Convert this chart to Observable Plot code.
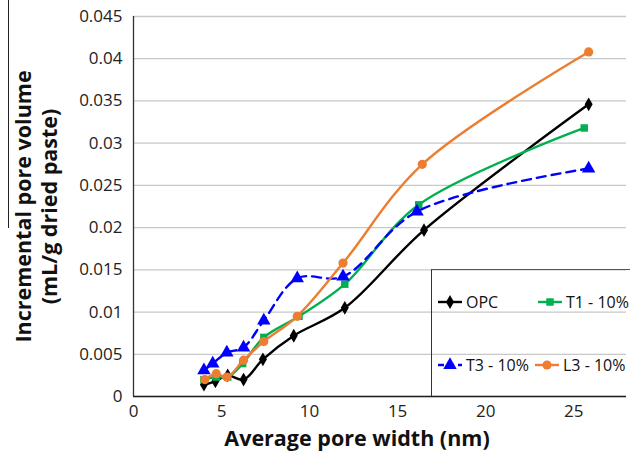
<!DOCTYPE html>
<html>
<head>
<meta charset="utf-8">
<script src="https://cdn.jsdelivr.net/npm/d3@7"></script>
<script src="https://cdn.jsdelivr.net/npm/@observablehq/plot@0.6"></script>
<style>
  body { margin: 0; background: #fff; }
  #wrap { position: relative; width: 630px; height: 460px; font-family: "Open Sans", sans-serif; }
  #legend { position: absolute; left: 431px; top: 269px; width: 205px; height: 127px;
            border-left: 1.3px solid #333; border-top: 1.3px solid #555; box-sizing: border-box; }
  .item { position: absolute; display: flex; align-items: center; font-size: 16px; color: #111; height: 20px; }
  .item svg { margin-right: 3px; }
  #edge { position: absolute; left: 8px; top: 0; width: 1px; height: 228px; background: #222; }
</style>
</head>
<body>
<div id="wrap"><div id="edge"></div></div>
<script>
const seriesNames = ["OPC", "T1 - 10%", "T3 - 10%", "L3 - 10%"];
const xOPC = [4.0, 4.65, 5.35, 6.25, 7.35, 9.1, 12.0, 16.5, 25.85];
const yOPC = [0.0014, 0.0018, 0.0025, 0.0020, 0.0044, 0.0072, 0.0105, 0.0197, 0.0346];
const xT1 = [4.0, 4.7, 5.35, 6.2, 7.4, 9.4, 12.0, 16.2, 25.6];
const yT1 = [0.0020, 0.0023, 0.0023, 0.0039, 0.0070, 0.0095, 0.0133, 0.0227, 0.0318];
const xT3 = [4.0, 4.5, 5.3, 6.25, 7.4, 9.3, 11.9, 16.1, 25.85];
const yT3 = [0.0031, 0.0039, 0.0052, 0.0058, 0.0090, 0.0140, 0.0142, 0.0219, 0.0270];
const xL3 = [4.05, 4.7, 5.3, 6.25, 7.4, 9.3, 11.9, 16.4, 25.85];
const yL3 = [0.0020, 0.0027, 0.0023, 0.0043, 0.0065, 0.0095, 0.0158, 0.0275, 0.0408];
const xTicks = [0, 5, 10, 15, 20, 25];
const yTicks = [0, 0.005, 0.01, 0.015, 0.02, 0.025, 0.03, 0.035, 0.04, 0.045];

const colors = ["#000000", "#00b050", "#0000ff", "#ed7d31"];
const symbols = ["diamond", "square", "triangle", "circle"];
const dashes = [null, null, "9,6", null];
const rs = [4.2, 4.2, 5, 4.6];

const xs = [xOPC, xT1, xT3, xL3];
const ys = [yOPC, yT1, yT3, yL3];
const tables = seriesNames.map((s, i) => xs[i].map((x, j) => ({series: s, x, y: ys[i][j]})));

const marks = [
  Plot.gridY(yTicks, {stroke: "#c8c8c8", strokeOpacity: 1, strokeWidth: 1.3}),
  Plot.ruleX([0], {stroke: "#333", strokeWidth: 1.3}),
  Plot.ruleY([0], {stroke: "#222", strokeWidth: 1.3}),
  Plot.axisX(xTicks, {tickSize: 0, tickPadding: 8, fontSize: 17, fill: "#222", label: null}),
  Plot.axisY(yTicks, {tickSize: 0, tickPadding: 11, fontSize: 17, fill: "#222", label: null,
    tickFormat: d => d === 0 ? "0" : String(+d.toFixed(3))}),
];
tables.forEach((t, i) => {
  marks.push(Plot.line(t, {x: "x", y: "y", stroke: colors[i], strokeWidth: 2.4, curve: "catmull-rom",
    strokeDasharray: dashes[i]}));
  marks.push(Plot.dot(t, {x: "x", y: "y", fill: colors[i], stroke: "none", symbol: () => symbols[i], r: rs[i]}));
});
marks.push(Plot.text(["Incremental pore volume\n(mL/g dried paste)"], {
  frameAnchor: "left", textAnchor: "middle", rotate: -90, dx: -98, fontSize: 21.5, fontWeight: "bold",
  lineHeight: 1.2, fill: "#111"}));
marks.push(Plot.text(["Average pore width (nm)"], {
  frameAnchor: "bottom", textAnchor: "middle", dx: -23, dy: 49, fontSize: 21.5, fontWeight: "bold", fill: "#111"}));

const chart = Plot.plot({
  width: 630, height: 460,
  marginLeft: 133, marginRight: 4, marginTop: 16, marginBottom: 64,
  x: {domain: [0, 28]},
  y: {domain: [0, 0.045]},
  style: {fontFamily: "Open Sans, sans-serif", background: "transparent"},
  marks
});
chart.style.position = "absolute";
chart.style.left = "0px";
chart.style.top = "0px";
const wrap = document.getElementById("wrap");
wrap.appendChild(chart);

// legend overlay
const legend = document.createElement("div");
legend.id = "legend";
const pos = [[5, 32], [105, 32], [5, 95], [102, 95]];
const symTypes = {diamond: d3.symbolDiamond, square: d3.symbolSquare, triangle: d3.symbolTriangle, circle: d3.symbolCircle};
seriesNames.forEach((s, i) => {
  const item = document.createElement("div");
  item.className = "item";
  item.style.left = pos[i][0] + "px";
  item.style.top = (pos[i][1] - 10) + "px";
  const path = d3.symbol(symTypes[symbols[i]], Math.PI * rs[i] * rs[i])();
  item.innerHTML = `<svg width="26" height="20"><line x1="1" x2="25" y1="10" y2="10" stroke="${colors[i]}" stroke-width="2.4" ${dashes[i] ? 'stroke-dasharray="6,4"' : ''}/><path d="${path}" transform="translate(13,10)" fill="${colors[i]}"/></svg><span>${s}</span>`;
  legend.appendChild(item);
});
wrap.appendChild(legend);
</script>
</body>
</html>
